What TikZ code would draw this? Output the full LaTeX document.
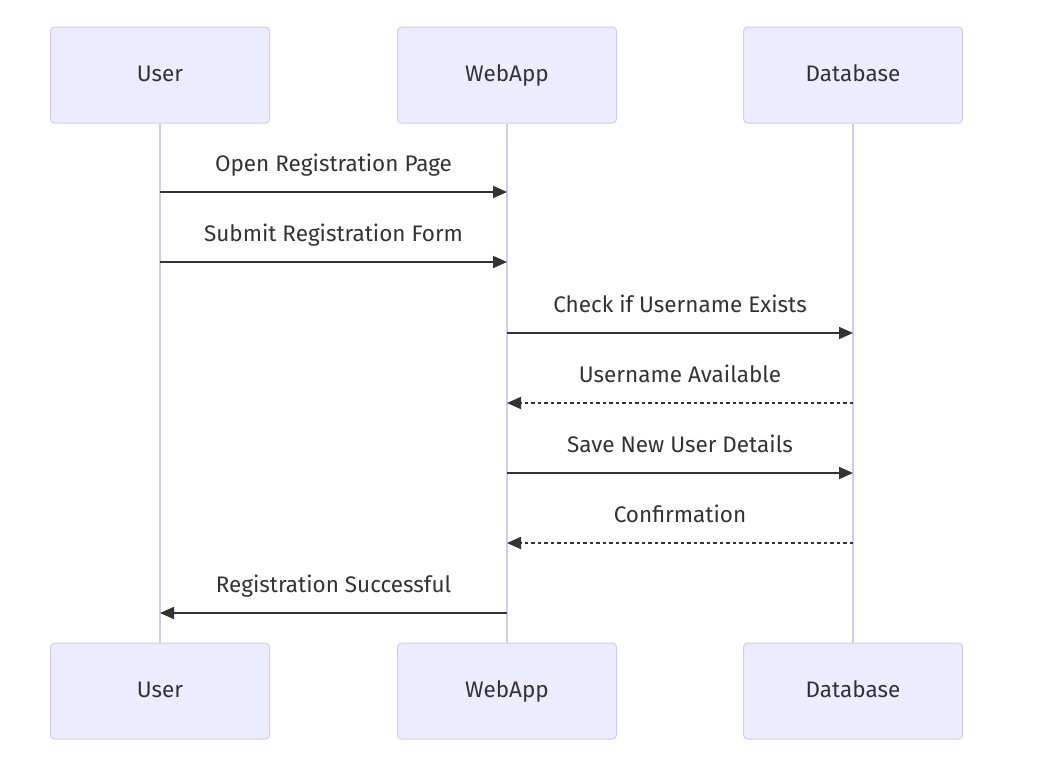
\documentclass[tikz,border=0pt]{standalone}
\usepackage{fontspec}
\setmainfont{Fira Sans}
\usetikzlibrary{arrows.meta,positioning}
\definecolor{actorfill}{HTML}{ECECFF}
\definecolor{actorline}{HTML}{D2CBF2}
\definecolor{msgline}{HTML}{333333}

\begin{document}
\begin{tikzpicture}[x=1pt,y=-1pt,
    actor/.style={draw=actorline,fill=actorfill,line width=1pt,rounded corners=4pt,
      minimum width=219pt,minimum height=96pt,text=msgline,font=\fontsize{22.5}{26}\selectfont,
      text height=1.45em,text depth=0.14em},
    lifeline/.style={draw=actorline,line width=2pt},
    msg/.style={draw=msgline,line width=1.8pt,-{Triangle[length=14pt,width=12pt]}},
    reply/.style={msg,dash pattern=on 3.5pt off 3pt},
    msglabel/.style={midway,yshift=27pt,text=msgline,font=\fontsize{22.5}{26}\selectfont,
      text height=1.45em,text depth=0.14em}]
  \useasboundingbox (0,0) rectangle (1062,772);

  % actors, top and bottom
  \node[actor] (userTop) at (160,75) {User};
  \node[actor] (webTop) at (507,75) {WebApp};
  \node[actor] (dbTop) at (853,75) {Database};
  \node[actor] (userBot) at (160,691) {User};
  \node[actor] (webBot) at (507,691) {WebApp};
  \node[actor] (dbBot) at (853,691) {Database};

  % lifelines
  \draw[lifeline] (userTop) -- (userBot);
  \draw[lifeline] (webTop) -- (webBot);
  \draw[lifeline] (dbTop) -- (dbBot);

  % messages
  \foreach \y/\a/\b/\txt/\sty in {192/user/web/Open Registration Page/msg,
      262/user/web/Submit Registration Form/msg,
      333/web/db/Check if Username Exists/msg,
      403/db/web/Username Available/reply,
      473/web/db/Save New User Details/msg,
      543/db/web/Confirmation/reply,
      613/web/user/Registration Successful/msg}
    \draw[\sty] (\a Top |- 0,\y) -- node[msglabel] {\txt} (\b Top |- 0,\y);
\end{tikzpicture}
\end{document}
